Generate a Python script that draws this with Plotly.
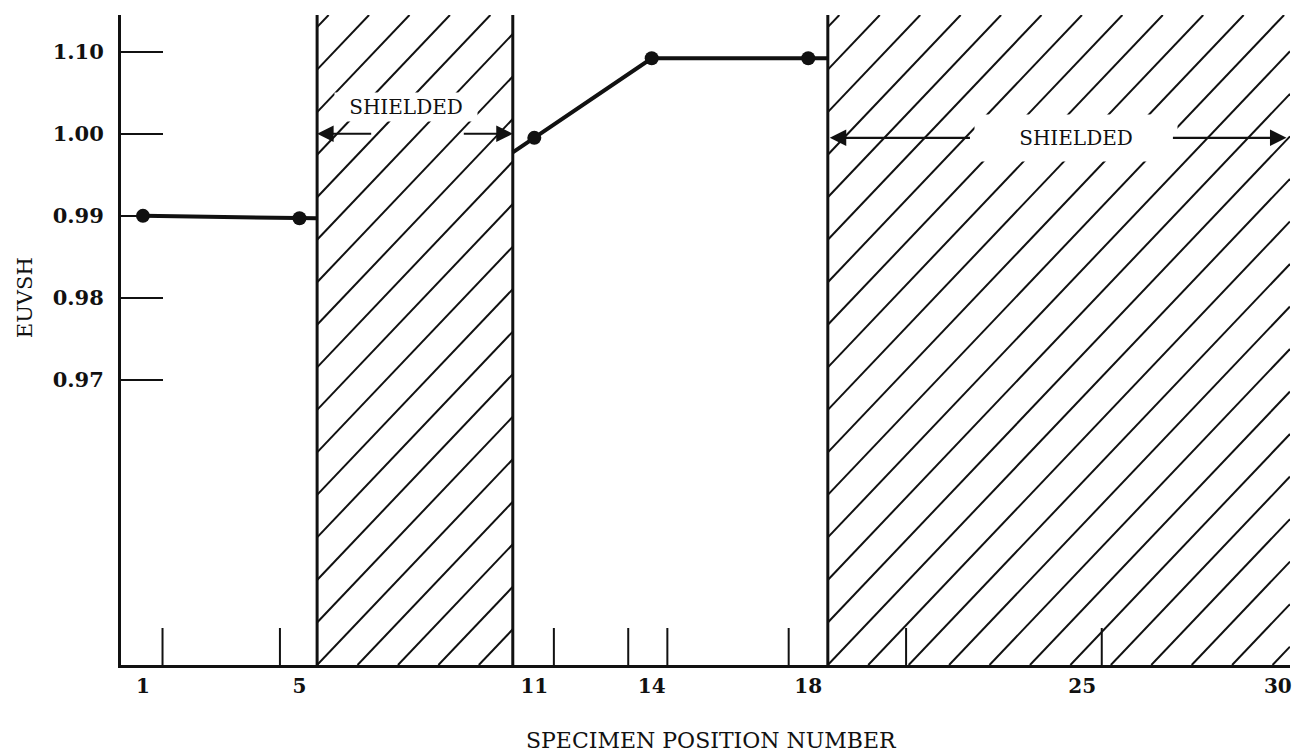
import plotly.graph_objects as go

# ---- data -------------------------------------------------------------
positions = [1, 5, 11, 14, 18]                      # specimen position number
euvsh = [0.9900, 0.9897, 0.9995, 1.0092, 1.0092]      # EUVSH ratio

y_tick_values = [0.97, 0.98, 0.99, 1.00, 1.01]
y_tick_labels = ["0.97", "0.98", "0.99", "1.00", "1.10"]

x_tick_values = [1, 5, 11, 14, 18, 25, 30]
x_tick_labels = ["1", "5", "11", "14", "18", "25", "30"]

shielded_spans = [(5.45, 10.45), (18.5, 31.0)]
marker_positions = [1.5, 4.5, 11.5, 13.4, 14.4, 17.5, 20.5, 25.5]

# ---- page geometry ---------------------------------------------------
W, H = 1292, 755
ML, MR, MT, MB = 121, 0, 15, 90
X_RANGE = [0.439, 30.31]
Y_RANGE = [0.93527, 1.01447]
PW, PH = W - ML - MR, H - MT - MB

FONT = "DejaVu Serif"
INK = "#111111"


def px_to_x(px):
    return X_RANGE[0] + (px - ML) / PW * (X_RANGE[1] - X_RANGE[0])


def x_to_px(x):
    return ML + (x - X_RANGE[0]) / (X_RANGE[1] - X_RANGE[0]) * PW


def py_to_y(py):
    return Y_RANGE[0] + (MT + PH - py) / PH * (Y_RANGE[1] - Y_RANGE[0])


shapes = []

# diagonal hatching of the shielded zones (computed in pixel space)
SPACING, SLOPE = 40.5, 1.05
top_px, bot_px = MT, MT + PH
for x0, x1 in shielded_spans:
    left = x_to_px(x0)
    right = min(x_to_px(x1), W)
    k = -int((bot_px - top_px) / SLOPE / SPACING) - 1
    while True:
        xs = left + k * SPACING          # where the line meets the bottom edge
        if xs >= right:
            break
        k += 1
        # line: y = bot - SLOPE*(x - xs)
        xa = max(xs, left)
        ya = bot_px - SLOPE * (xa - xs)
        xb = min(right, xs + (bot_px - top_px) / SLOPE)
        yb = bot_px - SLOPE * (xb - xs)
        if ya < top_px or xb <= xa:
            continue
        shapes.append(dict(type="line", xref="x", yref="y",
                           x0=px_to_x(xa), y0=py_to_y(ya),
                           x1=px_to_x(xb), y1=py_to_y(yb),
                           line=dict(color=INK, width=2), layer="below"))
    # zone boundaries
    for xb_ in (x0, x1):
        if X_RANGE[0] < xb_ < X_RANGE[1]:
            shapes.append(dict(type="line", xref="x", yref="paper",
                               x0=xb_, x1=xb_, y0=0, y1=1,
                               line=dict(color=INK, width=3), layer="below"))

# short position markers standing on the baseline
for p in marker_positions:
    shapes.append(dict(type="line", xref="x", yref="paper",
                       x0=p, x1=p, y0=0, y1=37 / PH,
                       line=dict(color=INK, width=2), layer="below"))

# connecting line, carried to the edges of the shielded zones
b1 = shielded_spans[0][0]
b2 = shielded_spans[0][1]
b3 = shielded_spans[1][0]
slope_mid = (euvsh[3] - euvsh[2]) / (positions[3] - positions[2])
line_x = [positions[0], positions[1], b1, None,
          b2, positions[2], positions[3], positions[4], b3]
line_y = [euvsh[0], euvsh[1], euvsh[1], None,
          euvsh[2] - slope_mid * (positions[2] - b2),
          euvsh[2], euvsh[3], euvsh[4], euvsh[4]]

fig = go.Figure()
fig.add_trace(go.Scatter(x=line_x, y=line_y, mode="lines",
                         line=dict(color=INK, width=4), hoverinfo="skip",
                         showlegend=False))
fig.add_trace(go.Scatter(x=positions, y=euvsh, mode="markers",
                         marker=dict(color=INK, size=14),
                         showlegend=False))

arrow = dict(text="", showarrow=True, arrowhead=2, arrowsize=1.5,
             arrowwidth=2.2, arrowcolor=INK, xref="x", yref="y",
             axref="x", ayref="y")

annotations = [
    # left zone label and arrows
    dict(x=7.71, y=1.00326, xref="x", yref="y", text="SHIELDED",
         showarrow=False, font=dict(family=FONT, size=20, color=INK),
         bgcolor="white", width=140, height=26),
    dict(x=b1, y=1.0, ax=6.87, ay=1.0, **arrow),
    dict(x=b2, y=1.0, ax=9.16, ay=1.0, **arrow),
    # right zone label and arrows
    dict(x=24.85, y=0.9995, xref="x", yref="y", text="SHIELDED",
         showarrow=False, font=dict(family=FONT, size=20, color=INK),
         bgcolor="white", width=200, height=44),
    dict(x=b3 + 0.05, y=0.9995, ax=22.17, ay=0.9995, **arrow),
    dict(x=30.22, y=0.9995, ax=27.28, ay=0.9995, **arrow),
    # axis titles
    dict(x=(25 - ML) / PW, y=(MT + PH - 298) / PH, xref="paper", yref="paper",
         xanchor="center", yanchor="middle",
         text="EUVSH", textangle=-90, showarrow=False,
         font=dict(family=FONT, size=21, color=INK)),
    dict(x=(713 - ML) / PW, y=(MT + PH - 740) / PH, xref="paper", yref="paper",
         xanchor="center", yanchor="middle",
         text="SPECIMEN POSITION NUMBER", showarrow=False,
         font=dict(family=FONT, size=22, color=INK)),
]

fig.update_layout(
    width=W, height=H,
    margin=dict(l=ML, r=MR, t=MT, b=MB, pad=0),
    paper_bgcolor="white", plot_bgcolor="white",
    shapes=shapes, annotations=annotations,
    showlegend=False,
    xaxis=dict(range=X_RANGE, showgrid=False, zeroline=False,
               showline=True, linecolor=INK, linewidth=3,
               tickmode="array", tickvals=x_tick_values, ticktext=x_tick_labels,
               ticks="", ticklabelstandoff=1, ticklabeloverflow="allow",
               tickfont=dict(family=FONT, size=20, color=INK, weight="bold")),
    yaxis=dict(range=Y_RANGE, showgrid=False, zeroline=False,
               showline=True, linecolor=INK, linewidth=3,
               tickmode="array", tickvals=y_tick_values, ticktext=y_tick_labels,
               ticks="inside", ticklen=42, tickwidth=2, tickcolor=INK,
               ticklabelstandoff=10,
               tickfont=dict(family=FONT, size=21, color=INK, weight="bold")),
)

fig.write_html("out.html")
